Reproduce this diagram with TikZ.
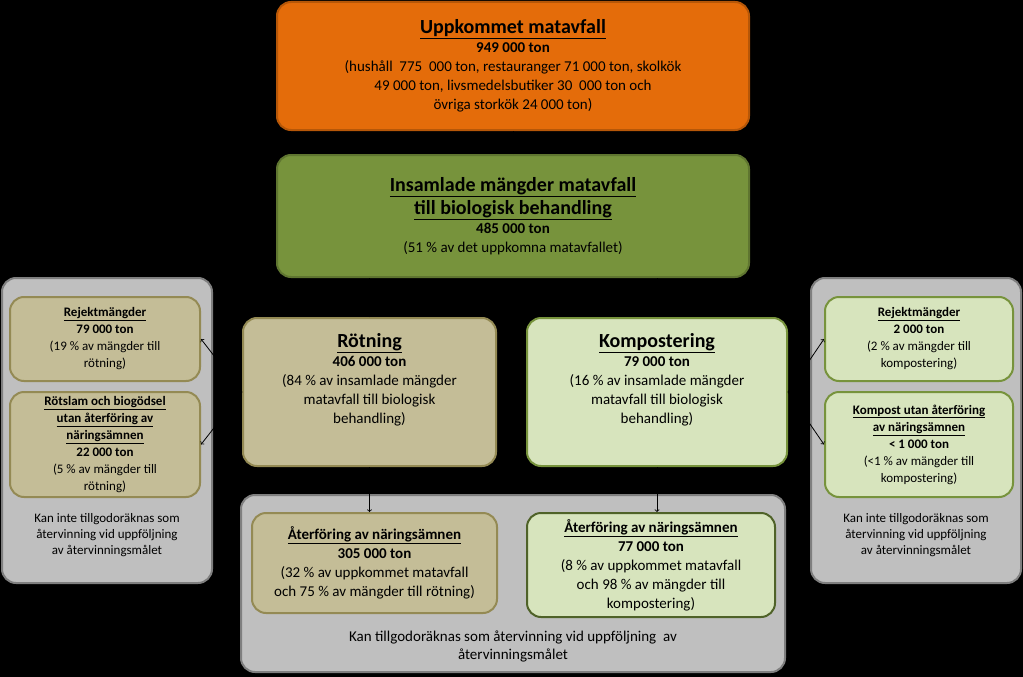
\documentclass[tikz,border=0pt]{standalone}
\usepackage{fontspec}
\setmainfont{Carlito}
\usetikzlibrary{positioning}
\definecolor{orangebox}{HTML}{E46C0A}
\definecolor{orangeline}{HTML}{B65708}
\definecolor{greenbox}{HTML}{77933C}
\definecolor{greenline}{HTML}{5F7530}
\definecolor{lightgreen}{HTML}{D7E4BD}
\definecolor{tanbox}{HTML}{C4BD97}
\definecolor{tanline}{HTML}{948A54}
\definecolor{panelgray}{HTML}{BFBFBF}
\definecolor{panelline}{HTML}{7F7F7F}
\definecolor{darkgreen}{HTML}{4F6228}
\newcommand{\ttl}[1]{\textbf{\underline{#1}}}
\newcommand{\bigttl}[1]{{\fontsize{20}{24}\selectfont\ttl{#1}}}
\begin{document}
\begin{tikzpicture}[x=1pt,y=-1pt,
  box/.style={draw,line width=2pt,rounded corners=14pt,align=center,inner sep=0pt},
  panel/.style={box,fill=panelgray,draw=panelline},
  tanb/.style={box,fill=tanbox,draw=tanline},
  greenb/.style={box,fill=lightgreen,draw=greenbox},
  flow/.style={->,thick,black}]
\fill[black] (0,0) rectangle (1023,677);
% panels
\node[panel,minimum width=210pt,minimum height=305pt] (lpanel) at (107,430.5) {};
\node[panel,minimum width=210pt,minimum height=305pt] (rpanel) at (916,430.5) {};
\node[panel,minimum width=544pt,minimum height=177pt] (bpanel) at (513,583.5) {};
\node[font=\fontsize{13}{16}\selectfont,align=center] (ltext) at (107,535) {Kan inte tillgodoräknas som\\återvinning vid uppföljning\\av återvinningsmålet};
\node[font=\fontsize{13}{16}\selectfont,align=center] (rtext) at (916,535) {Kan inte tillgodoräknas som\\återvinning vid uppföljning\\av återvinningsmålet};
\node[font=\fontsize{15}{18}\selectfont,align=center] (btext) at (513,646) {Kan tillgodoräknas som återvinning vid uppföljning\ \ av\\återvinningsmålet};
% main boxes
\node[box,fill=orangebox,draw=orangeline,minimum width=472pt,minimum height=128pt,
  font=\fontsize{15}{19}\selectfont] (upp) at (513,66)
  {\bigttl{Uppkommet matavfall}\\\textbf{949 000 ton}\\(hushåll\ \ 775\ \ 000 ton, restauranger 71 000 ton, skolkök\\49 000 ton, livsmedelsbutiker 30\ \ 000 ton och\\övriga storkök 24 000 ton)};
\node[box,fill=greenbox,draw=greenline,minimum width=472pt,minimum height=122pt,
  font=\fontsize{15}{19}\selectfont] (insam) at (513,216)
  {\bigttl{Insamlade mängder matavfall}\\[3pt]\bigttl{till biologisk behandling}\\\textbf{485 000 ton}\\(51 \% av det uppkomna matavfallet)};
\node[tanb,minimum width=253pt,minimum height=148pt,font=\fontsize{15}{19}\selectfont] (rot) at (369.5,392)
  {\bigttl{Rötning}\\\textbf{406 000 ton}\\(84 \% av insamlade mängder\\matavfall till biologisk\\behandling)\\[8pt]};
\node[greenb,minimum width=260pt,minimum height=148pt,font=\fontsize{15}{19}\selectfont] (komp) at (657,392)
  {\bigttl{Kompostering}\\\textbf{79 000 ton}\\(16 \% av insamlade mängder\\matavfall till biologisk\\behandling)\\[8pt]};
% side boxes
\node[tanb,minimum width=190pt,minimum height=84pt,font=\fontsize{13}{17}\selectfont] (lrej) at (105,339)
  {\ttl{Rejektmängder}\\\textbf{79 000 ton}\\(19 \% av mängder till\\rötning)};
\node[tanb,minimum width=190pt,minimum height=105pt,font=\fontsize{13}{17}\selectfont] (lslam) at (105,444.5)
  {\ttl{Rötslam och biogödsel}\\\ttl{utan återföring av}\\\ttl{näringsämnen}\\\textbf{22 000 ton}\\(5 \% av mängder till\\rötning)};
\node[greenb,minimum width=188pt,minimum height=84pt,font=\fontsize{13}{17}\selectfont] (rrej) at (919,339)
  {\ttl{Rejektmängder}\\\textbf{2 000 ton}\\(2 \% av mängder till\\kompostering)};
\node[greenb,minimum width=188pt,minimum height=105pt,font=\fontsize{13}{17}\selectfont] (rkomp) at (919,444.5)
  {\ttl{Kompost utan återföring}\\\ttl{av näringsämnen}\\\textbf{< 1 000 ton}\\(<1 \% av mängder till\\kompostering)};
% recycled boxes
\node[tanb,minimum width=245pt,minimum height=100pt,font=\fontsize{15}{19}\selectfont] (laterf) at (374.5,563)
  {\ttl{Återföring av näringsämnen}\\\textbf{305 000 ton}\\(32 \% av uppkommet matavfall\\och 75 \% av mängder till rötning)};
\node[greenb,draw=darkgreen,minimum width=248pt,minimum height=104pt,font=\fontsize{15}{19}\selectfont] (raterf) at (651,565)
  {\ttl{Återföring av näringsämnen}\\\textbf{77 000 ton}\\(8 \% av uppkommet matavfall\\och 98 \% av mängder till\\kompostering)};
% connectors
\draw[flow] (upp) -- (insam);
\draw[flow] (insam.south -| rot) -- (rot);
\draw[flow] (insam.south -| komp) -- (komp);
\draw[flow] (rot) -- (laterf.north -| rot);
\draw[flow] (komp) -- (raterf.north -| komp);
\draw[flow] (rot.west) -- (lrej.east);
\draw[flow] (rot.west) -- (lslam.east);
\draw[flow] (komp.east) -- (rrej.west);
\draw[flow] (komp.east) -- (rkomp.west);
\end{tikzpicture}
\end{document}
